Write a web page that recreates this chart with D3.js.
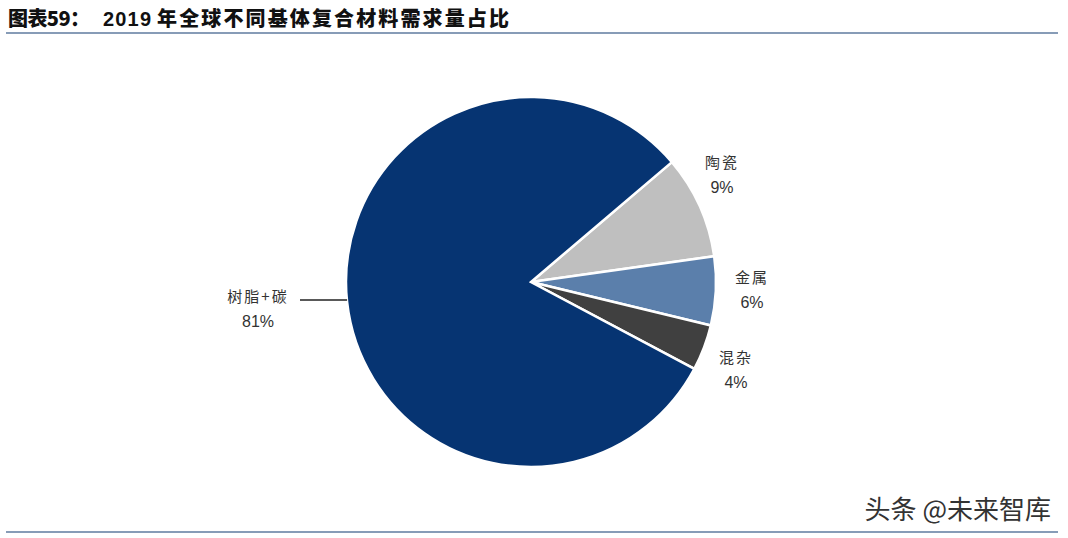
<!DOCTYPE html>
<html><head><meta charset="utf-8">
<script src="https://cdn.jsdelivr.net/npm/d3@7"></script>
<style>
html,body{margin:0;padding:0;background:#fff;}
svg{display:block;}
</style></head>
<body>
<svg id="chart" width="1068" height="538"></svg>
<script>
const categories = ["陶瓷", "金属", "混杂", "树脂+碳"];
const values = [9, 6, 4, 81];
const valueLabels = ["9%", "6%", "4%", "81%"];
const colors = ["#bfbfbf", "#5b7fab", "#404040", "#063472"];
const titleParts = ["图表59：", "2019", "年全球不同基体复合材料需求量占比"];
const watermark = "头条 @未来智库";

const svg = d3.select("#chart");
const W = 1068, H = 538;
svg.append("rect").attr("width", W).attr("height", H).attr("fill", "#fff");

const font = "'Noto Sans CJK SC', sans-serif";
// Title
const titleX = [8, 103, 157], titleW = [82, 48, 352];
titleParts.forEach((t, i) => {
  svg.append("text").attr("x", titleX[i]).attr("y", 26)
    .attr("font-family", i === 1 ? "'Liberation Sans', Arial, sans-serif" : font)
    .attr("font-weight", 900).attr("font-size", 20).attr("fill", "#111")
    .attr("textLength", titleW[i]).attr("lengthAdjust", "spacing")
    .text(t);
});
svg.append("line").attr("x1", 6).attr("x2", 1058).attr("y1", 33).attr("y2", 33)
  .attr("stroke", "#5f7b9f").attr("stroke-width", 1.5);
svg.append("line").attr("x1", 6).attr("x2", 1058).attr("y1", 532).attr("y2", 532)
  .attr("stroke", "#5f7b9f").attr("stroke-width", 1.5);

// Pie
const cx = 531, cy = 282, r = 185;
const start = 49.6 * Math.PI / 180;
const pie = d3.pie().sort(null).value(d => d).startAngle(start).endAngle(start + 2 * Math.PI);
const arc = d3.arc().innerRadius(0).outerRadius(r);
const arcs = pie(values);
const g = svg.append("g").attr("transform", `translate(${cx},${cy})`);
g.selectAll("path").data(arcs).join("path")
  .attr("d", arc)
  .attr("fill", (d, i) => colors[i])
  .attr("stroke", "#fff").attr("stroke-width", 2.5).attr("stroke-linejoin", "miter");

// Labels
const labelPos = [
  {x: 722, y: 168},
  {x: 752, y: 283},
  {x: 736, y: 363},
  {x: 258, y: 302}
];
arcs.forEach((a, i) => {
  const p = labelPos[i];
  svg.append("text").attr("x", p.x).attr("y", p.y)
    .attr("text-anchor", "middle").attr("font-family", font)
    .attr("font-size", 15).attr("fill", "#333")
    .attr("letter-spacing", 2)
    .text(categories[i]);
  svg.append("text").attr("x", p.x).attr("y", p.y + 25)
    .attr("text-anchor", "middle").attr("font-family", "'Liberation Sans', Arial, sans-serif")
    .attr("font-size", 16).attr("fill", "#333")
    .text(valueLabels[i]);
});
// leader line for the big slice
const big = arcs[3];
const mid = (big.startAngle + big.endAngle) / 2;
svg.append("line")
  .attr("x1", 300).attr("x2", cx + r * Math.sin(mid))
  .attr("y1", 300).attr("y2", 300)
  .attr("stroke", "#222").attr("stroke-width", 1.3);

// Watermark
svg.append("text").attr("x", 1051).attr("y", 519)
  .attr("text-anchor", "end")
  .attr("font-family", font)
  .attr("font-size", 26).attr("fill", "#333")
  .text(watermark);
</script>
</body></html>
